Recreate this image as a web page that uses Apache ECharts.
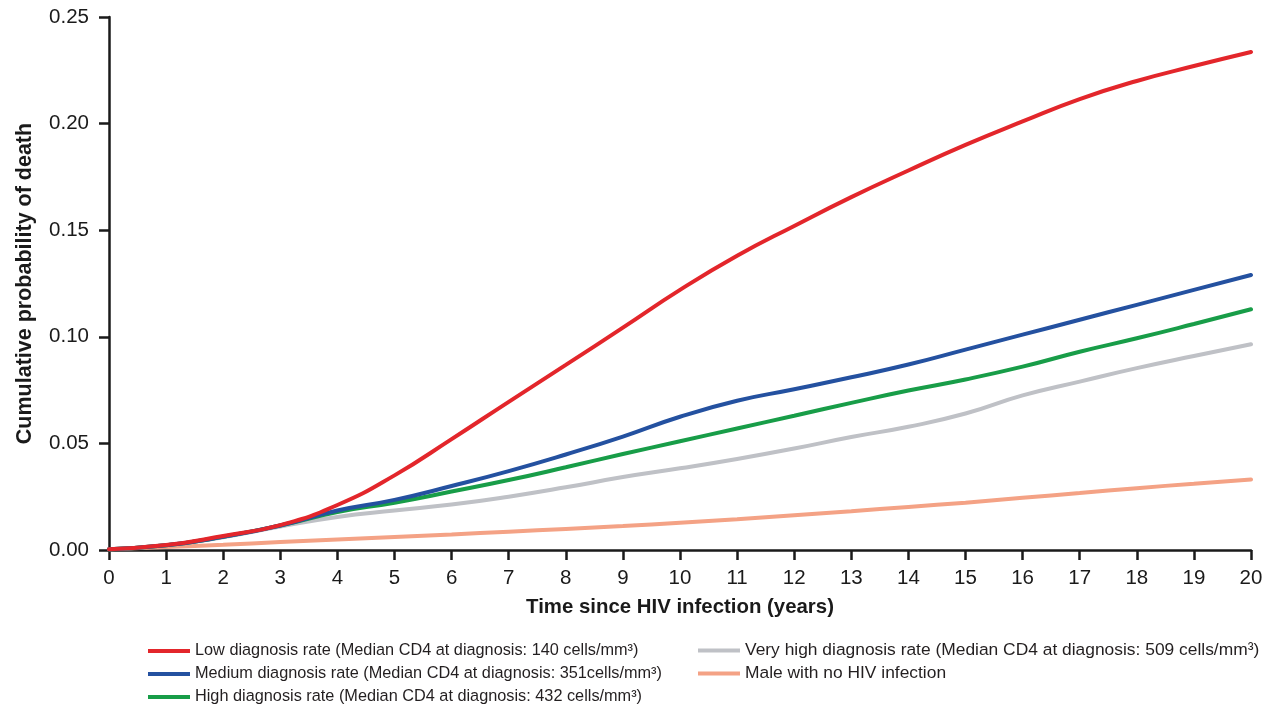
<!DOCTYPE html>
<html>
<head>
<meta charset="utf-8">
<script src="https://cdn.jsdelivr.net/npm/echarts@6/dist/echarts.min.js"></script>
<style>
  html, body { margin: 0; padding: 0; background: #ffffff; }
  #chart { width: 1280px; height: 704px; }
</style>
</head>
<body>
<div id="chart"></div>
<script>
// Years since HIV infection
const years = [0, 1, 2, 3, 4, 5, 6, 7, 8, 9, 10, 11, 12, 13, 14, 15, 16, 17, 18, 19, 20];

// Cumulative probability of death by diagnosis-rate scenario
const lowRate      = [0.0004, 0.0023, 0.0066, 0.0117, 0.0211, 0.0350, 0.0520, 0.0695, 0.0868, 0.1043, 0.1220, 0.1380, 0.1520, 0.1655, 0.1780, 0.1900, 0.2010, 0.2115, 0.2200, 0.2270, 0.2336];
const mediumRate   = [0.0004, 0.0022, 0.0062, 0.0115, 0.0185, 0.0235, 0.0300, 0.0370, 0.0448, 0.0532, 0.0625, 0.0700, 0.0754, 0.0810, 0.0870, 0.0940, 0.1010, 0.1080, 0.1150, 0.1220, 0.1290];
const highRate     = [0.0004, 0.0022, 0.0062, 0.0115, 0.0178, 0.0222, 0.0274, 0.0328, 0.0388, 0.0450, 0.0510, 0.0570, 0.0630, 0.0690, 0.0748, 0.0800, 0.0860, 0.0930, 0.0993, 0.1060, 0.1129];
const veryHighRate = [0.0004, 0.0022, 0.0060, 0.0110, 0.0155, 0.0185, 0.0213, 0.0250, 0.0294, 0.0342, 0.0383, 0.0427, 0.0476, 0.0530, 0.0578, 0.0640, 0.0725, 0.0790, 0.0853, 0.0910, 0.0965];
const noHiv        = [0.0004, 0.0014, 0.0025, 0.0037, 0.0049, 0.0061, 0.0073, 0.0086, 0.0099, 0.0112, 0.0128, 0.0144, 0.0163, 0.0182, 0.0202, 0.0222, 0.0245, 0.0267, 0.0290, 0.0311, 0.0331];

const seriesNames = [
  'Low diagnosis rate (Median CD4 at diagnosis: 140 cells/mm³)',
  'Medium diagnosis rate (Median CD4 at diagnosis: 351cells/mm³)',
  'High diagnosis rate (Median CD4 at diagnosis: 432 cells/mm³)',
  'Very high diagnosis rate (Median CD4 at diagnosis: 509 cells/mm³)',
  'Male with no HIV infection'
];
const seriesValues = [lowRate, mediumRate, highRate, veryHighRate, noHiv];
const seriesColors = ['#e3262b', '#2451a0', '#189d48', '#bfc1c6', '#f4a285'];

// Legend slots: [left, top, fontSize] for each entry, two columns
const legendSlots = [[148, 643, 16.3], [148, 666, 16.3], [148, 689, 16.3], [698, 642, 17.4], [698, 665, 17.4]];

const baseFont = 'Liberation Sans, Arial, Helvetica, sans-serif';
const ink = '#1a1a1a';

const chart = echarts.init(document.getElementById('chart'), null, { renderer: 'canvas' });

const series = seriesValues.map((vals, i) => ({
  name: seriesNames[i],
  type: 'line',
  data: years.map((y, k) => [y, vals[k]]),
  smooth: 0.5,
  showSymbol: false,
  symbol: 'none',
  lineStyle: { color: seriesColors[i], width: 4, cap: 'round' },
  itemStyle: { color: seriesColors[i] },
  z: 10 - i
}));

const legends = seriesNames.map((name, i) => ({
  data: [name],
  left: legendSlots[i][0],
  top: legendSlots[i][1],
  padding: 0,
  icon: 'rect',
  itemWidth: 42,
  itemHeight: 4,
  selectedMode: false,
  textStyle: { fontFamily: baseFont, fontSize: legendSlots[i][2], color: '#231f20' }
}));

chart.setOption({
  backgroundColor: '#ffffff',
  animation: false,
  grid: { left: 109, right: 29, top: 17, bottom: 154, containLabel: false },
  legend: legends,
  xAxis: {
    type: 'value',
    min: 0,
    max: 20,
    interval: 1,
    name: 'Time since HIV infection (years)',
    nameLocation: 'middle',
    nameGap: 47,
    nameTextStyle: { fontFamily: baseFont, fontWeight: 'bold', fontSize: 20.4, color: ink },
    axisLine: { show: true, lineStyle: { color: ink, width: 2.5 } },
    axisTick: { show: true, inside: false, length: 10, lineStyle: { color: ink, width: 2.5 } },
    axisLabel: { fontFamily: baseFont, fontSize: 20.5, color: ink, margin: 18 },
    splitLine: { show: false }
  },
  yAxis: {
    type: 'value',
    min: 0,
    max: 0.25,
    interval: 0.05,
    name: 'Cumulative probability of death',
    nameLocation: 'middle',
    nameGap: 73,
    nameRotate: 90,
    nameTextStyle: { fontFamily: baseFont, fontWeight: 'bold', fontSize: 21.5, color: ink },
    axisLine: { show: true, lineStyle: { color: ink, width: 2.5 } },
    axisTick: { show: true, inside: false, length: 10, lineStyle: { color: ink, width: 2.5 } },
    axisLabel: {
      fontFamily: baseFont, fontSize: 20.5, color: ink, margin: 20,
      formatter: v => v.toFixed(2)
    },
    splitLine: { show: false }
  },
  series: series
});
</script>
</body>
</html>
